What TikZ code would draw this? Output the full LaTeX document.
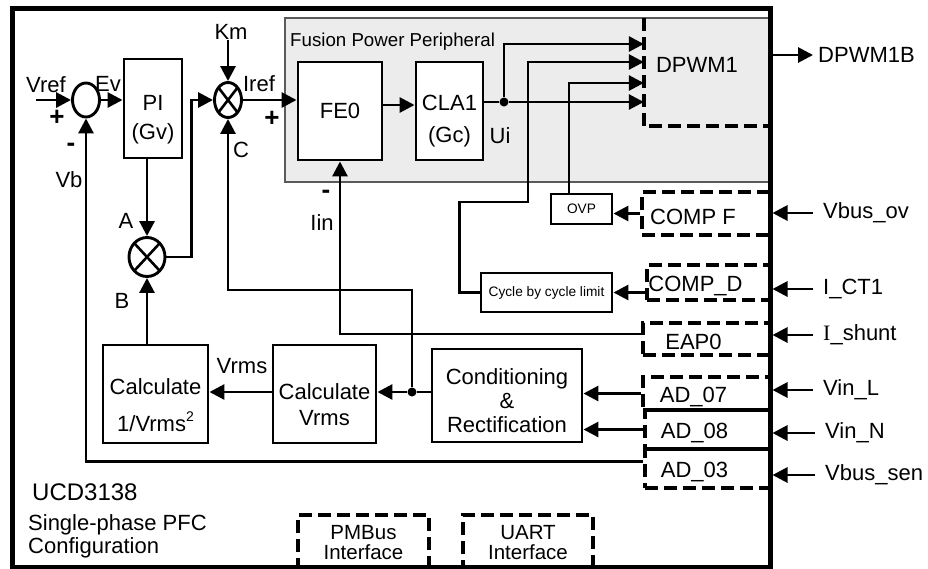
\documentclass[tikz,border=0pt]{standalone}
\usepackage{fontspec}
\setmainfont{Liberation Sans}
\newfontfamily\serifI{Liberation Serif}
\usepackage{xcolor}
\usepackage{tikz}
\usetikzlibrary{shapes.geometric, arrows.meta, positioning}
\definecolor{fusion}{RGB}{236,236,236}
\definecolor{fusionedge}{RGB}{90,90,90}

\begin{document}
\begin{tikzpicture}[x=1pt, y=-1pt,
    font=\fontsize{22}{26}\selectfont,
    blockbox/.style={draw, fill=white, line width=2.9pt, inner sep=0pt},
    dashbox/.style={draw, line width=3.5pt, dash pattern=on 13pt off 6pt, inner sep=0pt},
    blocktext/.style 2 args={label={[align=center, yshift=#1]center:#2}},
    dashtext/.style={label={[xshift=-13pt, yshift=-3pt]center:#1}},
    sumnode/.style={ellipse, draw, fill=white, line width=2.9pt, inner sep=0pt},
    mulnode/.style={sumnode, path picture={
        \draw[line width=2.6pt] (path picture bounding box.north west) -- (path picture bounding box.south east)
                                (path picture bounding box.north east) -- (path picture bounding box.south west);}},
    dotnode/.style={circle, fill, inner sep=0pt, minimum size=9pt},
    wire/.style={line width=2.9pt},
    arr/.style={wire, -{Triangle[length=15pt, width=15pt]}},
    sig/.style={inner sep=0pt},
    signmark/.style={sig, font=\fontsize{26}{26}\selectfont\bfseries},
    pinlabel/.style={anchor=west, inner xsep=10pt, inner ysep=0pt}]
    \useasboundingbox (0,0) rectangle (928,568);

    % Fusion Power Peripheral area and chip frame
    \node[draw=fusionedge, fill=fusion, line width=1.2pt, minimum width=485pt, minimum height=164pt] (fpp) at (527.5,100) {};
    \node[sig, anchor=west, font=\fontsize{18.7}{22}\selectfont] (fpptitle) at (290,42) {Fusion Power Peripheral};
    \node[draw, line width=5pt, minimum width=758pt, minimum height=559pt] (ucd) at (391,287.5) {};
    \node[minimum width=126pt, minimum height=108pt, inner sep=0pt,
          label={[xshift=-10pt, yshift=7pt]center:DPWM1}] (dpwm) at (707,72) {};
    \draw[dashbox] (dpwm.north west) -- (dpwm.south west) -- (dpwm.south east);

    % control loop blocks
    \node[sumnode, minimum width=27pt, minimum height=34pt] (sum) at (86,100) {};
    \node[blockbox, minimum width=58pt, minimum height=99pt, blocktext={-11pt}{PI\\[3pt](Gv)}] (pi) at (153,108.5) {};
    \node[mulnode, minimum width=27pt, minimum height=35pt] (mulref) at (228,100) {};
    \node[mulnode, minimum width=36pt, minimum height=39pt] (mulab) at (147,257) {};
    \node[blockbox, minimum width=84pt, minimum height=98pt] (fe0) at (340,111) {FE0};
    \node[blockbox, minimum width=67pt, minimum height=98pt, blocktext={-10pt}{CLA1\\[6pt](Gc)}] (cla) at (449.5,111) {};
    \node[dotnode] (ui) at (504,102) {};

    % measurement blocks
    \node[blockbox, minimum width=105pt, minimum height=98pt,
          blocktext={-11.5pt}{Calculate\\[11pt]1/Vrms\raisebox{10pt}{\fontsize{14}{14}\selectfont 2}}] (calcinv) at (155.5,394) {};
    \node[blockbox, minimum width=103pt, minimum height=98pt, blocktext={-11pt}{Calculate\\Vrms}] (calcrms) at (324.5,394) {};
    \node[blockbox, minimum width=150pt, minimum height=93pt,
          blocktext={-5.5pt}{Conditioning\\[-2pt]\&\\[-2pt]Rectification}] (cond) at (507,395.5) {};
    \node[dotnode] (jn) at (412,392) {};

    % protection
    \node[blockbox, minimum width=61pt, minimum height=30pt, font=\fontsize{13.7}{16}\selectfont] (ovp) at (581.5,209) {OVP};
    \node[blockbox, minimum width=131pt, minimum height=39pt, font=\fontsize{13.7}{16}\selectfont] (cbc) at (546.5,292.5) {Cycle by cycle limit};

    % peripherals
    \node[dashbox, minimum width=128pt, minimum height=43pt, dashtext={COMP F}] (compf) at (706,213.5) {};
    \node[dashbox, minimum width=123pt, minimum height=35pt, dashtext={COMP\_D}] (compd) at (708.5,282.5) {};
    \node[dashbox, minimum width=127pt, minimum height=32pt, dashtext={EAP0}] (eap) at (706.5,339) {};
    \node[dashbox, minimum width=127pt, minimum height=33pt, dashtext={AD\_07}] (ad07) at (706.5,393.5) {};
    \node[dashbox, minimum width=125pt, minimum height=39pt, dashtext={AD\_08}] (ad08) at (707.5,429.5) {};
    \node[dashbox, minimum width=125pt, minimum height=39pt, dashtext={AD\_03}] (ad03) at (707.5,468.5) {};
    \node[dashbox, minimum width=131pt, minimum height=56pt, align=center, font=\fontsize{20.5}{20}\selectfont] (pmbus) at (363.5,543) {PMBus\\Interface};
    \node[dashbox, minimum width=130pt, minimum height=56pt, align=center, font=\fontsize{20.5}{20}\selectfont] (uart) at (528,543) {UART\\Interface};

    % signal names
    \node[sig] (vref) at (46,85) {Vref};
    \node[sig] (ev) at (108,84) {Ev};
    \node[signmark] (vrefplus) at (57,118) {+};
    \node[signmark] (vbminus) at (71,147) {-};
    \node[sig] (vb) at (69,180) {Vb};
    \node[sig] (km) at (231,32) {Km};
    \node[sig] (iref) at (259,84) {Iref};
    \node[signmark] (irefplus) at (272,119) {+};
    \node[sig] (lblc) at (241,150) {C};
    \node[sig] (lbla) at (126,221) {A};
    \node[sig] (lblb) at (122,301) {B};
    \node[signmark] (iinminus) at (326,194) {-};
    \node[sig] (iin) at (322,223) {Iin};
    \node[sig] (uilbl) at (500,136) {Ui};
    \node[sig] (vrmslbl) at (242,366) {Vrms};
    \node[sig, anchor=west, font=\fontsize{24}{28}\selectfont] (chip) at (32,492) {UCD3138};
    \node[sig, anchor=west, align=left, font=\fontsize{22}{23}\selectfont] (config) at (28,536) {Single-phase PFC\\Configuration};

    % pins
    \node[pinlabel, inner xsep=5pt] (dpwm1b) at (813,55) {DPWM1B};
    \node[pinlabel] (vbusov) at (813,213) {Vbus\_ov};
    \node[pinlabel] (ict) at (813,289) {I\_CT1};
    \node[pinlabel] (ishunt) at (813,335) {{\serifI I}\_shunt};
    \node[pinlabel] (vinl) at (813,390) {Vin\_L};
    \node[pinlabel] (vinn) at (815,433) {Vin\_N};
    \node[pinlabel] (vbussen) at (815,475) {Vbus\_sen};

    \draw[arr] (dpwm1b.west -| ucd.east) -- (dpwm1b.west);
    \foreach \pin in {vbusov, ict, ishunt, vinl, vinn, vbussen}
        \draw[arr] (\pin.west) -- (\pin.west -| ucd.east);

    % voltage loop
    \coordinate (vrefin) at (36,100);
    \draw[arr] (vrefin) -- (sum.west);
    \draw[arr] (sum.east) -- (sum.east -| pi.west);
    \draw[arr] (km.south -| mulref.north) -- (mulref.north);
    \draw[arr] (pi.south -| mulab.north) -- (mulab.north);
    \draw[arr] (mulab.east) -- ++(25,0) |- (mulref.west);
    \draw[arr] (calcinv.north -| mulab.south) -- (mulab.south);

    % current loop
    \draw[arr] (mulref.east) -- (mulref.east -| fe0.west);
    \draw[arr] ([yshift=6pt]fe0.east) -- ([yshift=6pt]fe0.east -| cla.west);
    \draw[wire] (cla.east |- ui) -- (ui);
    \draw[arr] (ui) -- (ui -| dpwm.west);
    \draw[arr] (ui) |- ([yshift=28pt]dpwm.west);

    % protection paths
    \coordinate (cbcbend) at (528,202);
    \draw[arr] (cbc.west) -- ++(-20,0) |- (cbcbend) |- ([yshift=10pt]dpwm.west);
    \draw[arr] ([xshift=-12.5pt]ovp.north) |- ([yshift=-11pt]dpwm.west);
    \draw[arr] (compf.west) -- (compf.west -| ovp.east);
    \draw[arr] (compd.west |- cbc.east) -- (cbc.east);

    % sensing paths
    \draw[arr] ([yshift=5pt]eap.west) -| (fe0.south);
    \draw[arr] (ad07.west) -- (ad07.west -| cond.east);
    \draw[arr] (ad08.west) -- (ad08.west -| cond.east);
    \draw[arr] ([yshift=7pt]ad03.west) -| (sum.south);
    \draw[wire] (cond.west |- jn) -- (jn);
    \draw[arr] (jn) -- (jn -| calcrms.east);
    \draw[arr] (jn -| calcrms.west) -- (jn -| calcinv.east);
    \draw[arr] (jn) -- ++(0,-102) -| (mulref.south);
\end{tikzpicture}
\end{document}
